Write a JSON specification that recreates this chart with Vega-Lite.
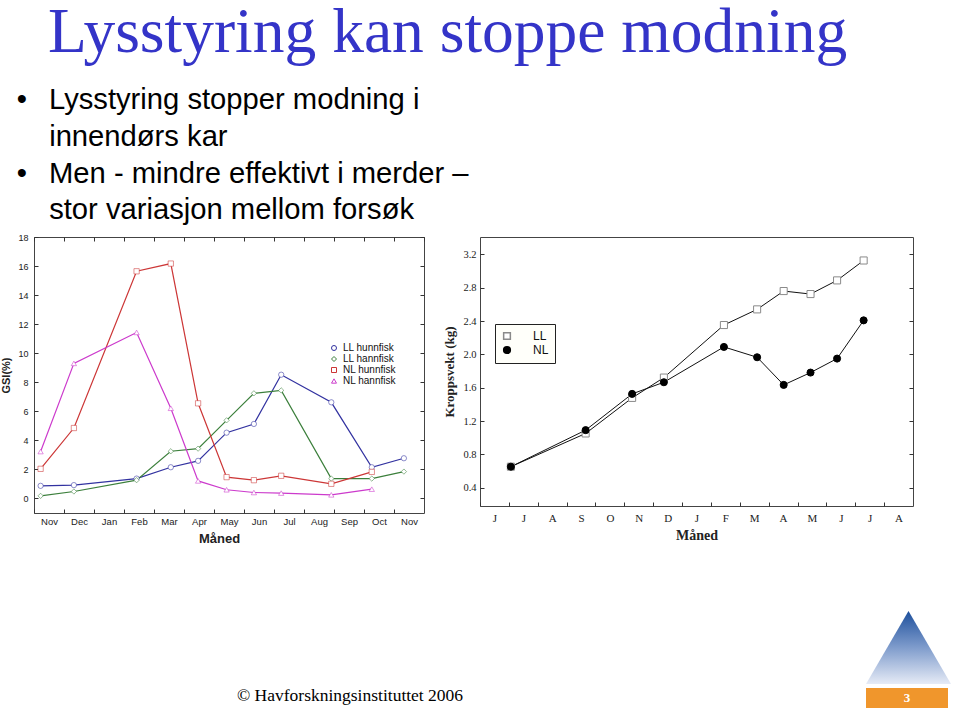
{
  "$schema": "https://vega.github.io/schema/vega-lite/v6.json",
  "background": "white",
  "padding": 0,
  "title": {
    "text": "\u200b\u00a0\u00a0\u00a0Lysstyring kan stoppe modning",
    "subtitle": [
      "\u200b\u00a0\u00a0•\u00a0\u00a0\u2009Lysstyring stopper modning i",
      "\u200b\u00a0\u00a0\u00a0\u00a0\u00a0\u00a0innendørs kar",
      "\u200b\u00a0\u00a0•\u00a0\u00a0\u2009Men - mindre effektivt i merder –",
      "\u200b\u00a0\u00a0\u00a0\u00a0\u00a0\u00a0stor variasjon mellom forsøk"
    ],
    "anchor": "start",
    "frame": "bounds",
    "font": "Liberation Serif",
    "fontSize": 63.5,
    "fontWeight": "normal",
    "color": "#3434c8",
    "subtitleFont": "Liberation Sans",
    "subtitleFontSize": 29.2,
    "subtitleColor": "#000000",
    "subtitleLineHeight": 36.7,
    "subtitlePadding": 21,
    "offset": 6
  },
  "datasets": {
    "gsi": [
      {"m": 0.22, "v": 0.87, "series": "LL hunnfisk"},
      {"m": 1.33, "v": 0.92, "series": "LL hunnfisk"},
      {"m": 3.42, "v": 1.37, "series": "LL hunnfisk"},
      {"m": 4.56, "v": 2.15, "series": "LL hunnfisk"},
      {"m": 5.47, "v": 2.59, "series": "LL hunnfisk"},
      {"m": 6.42, "v": 4.53, "series": "LL hunnfisk"},
      {"m": 7.33, "v": 5.13, "series": "LL hunnfisk"},
      {"m": 8.24, "v": 8.52, "series": "LL hunnfisk"},
      {"m": 9.91, "v": 6.62, "series": "LL hunnfisk"},
      {"m": 11.26, "v": 2.15, "series": "LL hunnfisk"},
      {"m": 12.33, "v": 2.77, "series": "LL hunnfisk"},
      {"m": 0.22, "v": 0.18, "series": "LL hannfisk"},
      {"m": 1.33, "v": 0.48, "series": "LL hannfisk"},
      {"m": 3.42, "v": 1.26, "series": "LL hannfisk"},
      {"m": 4.56, "v": 3.25, "series": "LL hannfisk"},
      {"m": 5.47, "v": 3.43, "series": "LL hannfisk"},
      {"m": 6.42, "v": 5.38, "series": "LL hannfisk"},
      {"m": 7.33, "v": 7.24, "series": "LL hannfisk"},
      {"m": 8.24, "v": 7.44, "series": "LL hannfisk"},
      {"m": 9.91, "v": 1.37, "series": "LL hannfisk"},
      {"m": 11.26, "v": 1.37, "series": "LL hannfisk"},
      {"m": 12.33, "v": 1.85, "series": "LL hannfisk"},
      {"m": 0.22, "v": 2.04, "series": "NL hunnfisk"},
      {"m": 1.33, "v": 4.85, "series": "NL hunnfisk"},
      {"m": 3.42, "v": 15.64, "series": "NL hunnfisk"},
      {"m": 4.56, "v": 16.17, "series": "NL hunnfisk"},
      {"m": 5.47, "v": 6.55, "series": "NL hunnfisk"},
      {"m": 6.42, "v": 1.47, "series": "NL hunnfisk"},
      {"m": 7.33, "v": 1.26, "series": "NL hunnfisk"},
      {"m": 8.24, "v": 1.56, "series": "NL hunnfisk"},
      {"m": 9.91, "v": 1.01, "series": "NL hunnfisk"},
      {"m": 11.26, "v": 1.83, "series": "NL hunnfisk"},
      {"m": 0.22, "v": 3.23, "series": "NL hannfisk"},
      {"m": 1.33, "v": 9.30, "series": "NL hannfisk"},
      {"m": 3.42, "v": 11.43, "series": "NL hannfisk"},
      {"m": 4.56, "v": 6.21, "series": "NL hannfisk"},
      {"m": 5.47, "v": 1.21, "series": "NL hannfisk"},
      {"m": 6.42, "v": 0.60, "series": "NL hannfisk"},
      {"m": 7.33, "v": 0.41, "series": "NL hannfisk"},
      {"m": 8.24, "v": 0.37, "series": "NL hannfisk"},
      {"m": 9.91, "v": 0.25, "series": "NL hannfisk"},
      {"m": 11.26, "v": 0.64, "series": "NL hannfisk"}
    ],
    "weight": [
      {"m": 1.07, "v": 0.652, "series": "LL"},
      {"m": 3.66, "v": 1.051, "series": "LL"},
      {"m": 5.27, "v": 1.478, "series": "LL"},
      {"m": 6.37, "v": 1.722, "series": "LL"},
      {"m": 8.45, "v": 2.353, "series": "LL"},
      {"m": 9.60, "v": 2.541, "series": "LL"},
      {"m": 10.52, "v": 2.761, "series": "LL"},
      {"m": 11.45, "v": 2.725, "series": "LL"},
      {"m": 12.37, "v": 2.889, "series": "LL"},
      {"m": 13.29, "v": 3.128, "series": "LL"},
      {"m": 1.07, "v": 0.652, "series": "NL"},
      {"m": 3.66, "v": 1.091, "series": "NL"},
      {"m": 5.27, "v": 1.526, "series": "NL"},
      {"m": 6.37, "v": 1.666, "series": "NL"},
      {"m": 8.45, "v": 2.090, "series": "NL"},
      {"m": 9.60, "v": 1.966, "series": "NL"},
      {"m": 10.52, "v": 1.634, "series": "NL"},
      {"m": 11.45, "v": 1.782, "series": "NL"},
      {"m": 12.37, "v": 1.950, "series": "NL"},
      {"m": 13.29, "v": 2.409, "series": "NL"}
    ]
  },
  "vconcat": [
    {
      "resolve": {
        "scale": {"stroke": "independent", "shape": "independent", "fill": "independent"},
        "legend": {"stroke": "independent", "shape": "independent", "fill": "independent"}
      },
      "hconcat": [
        {
          "width": 390,
          "height": 276,
          "data": {"name": "gsi"},
          "resolve": {"axis": {"x": "independent", "y": "independent"}},
          "layer": [
            {
              "mark": {"type": "line", "strokeWidth": 1.2},
              "encoding": {
                "x": {
                  "field": "m", "type": "quantitative",
                  "scale": {"domain": [0, 13], "nice": false, "zero": false},
                  "axis": {
                    "orient": "bottom",
                    "values": [0, 1, 2, 3, 4, 5, 6, 7, 8, 9, 10, 11, 12],
                    "labelExpr": "['Nov','Dec','Jan','Feb','Mar','Apr','May','Jun','Jul','Aug','Sep','Oct','Nov'][datum.value]",
                    "labelOffset": 15,
                    "labelFlush": false,
                    "labelOverlap": false,
                    "labelFont": "Liberation Sans",
                    "labelFontSize": 9.5,
                    "labelColor": "#222222",
                    "tickSize": -4,
                    "tickColor": "#333333",
                    "labelPadding": 7,
                    "title": "Måned",
                    "titleX": 185,
                    "titleFont": "Liberation Sans",
                    "titleFontSize": 13,
                    "titleFontWeight": "bold",
                    "titleColor": "#222222",
                    "titlePadding": 7,
                    "grid": false,
                    "domain": false
                  }
                },
                "y": {
                  "field": "v", "type": "quantitative",
                  "scale": {"domain": [-1, 18], "nice": false, "zero": false},
                  "axis": {
                    "orient": "left",
                    "values": [0, 2, 4, 6, 8, 10, 12, 14, 16, 18],
                    "labelFlush": false,
                    "labelFont": "Liberation Sans",
                    "labelFontSize": 9,
                    "labelColor": "#222222",
                    "tickSize": -4,
                    "tickColor": "#333333",
                    "labelPadding": 10,
                    "title": "GSI(%)",
                    "titleFont": "Liberation Sans",
                    "titleFontSize": 11,
                    "titleFontWeight": "bold",
                    "titleColor": "#222222",
                    "titlePadding": 6,
                    "grid": false,
                    "domain": false
                  }
                },
                "stroke": {
                  "field": "series", "type": "nominal",
                  "scale": {
                    "domain": ["LL hunnfisk", "LL hannfisk", "NL hunnfisk", "NL hannfisk"],
                    "range": ["#3232a0", "#3b7f3b", "#cc3636", "#cc3acc"]
                  },
                  "legend": {
                    "title": null, "orient": "none", "legendX": 295, "legendY": 106,
                    "labelFont": "Liberation Sans", "labelFontSize": 10, "labelColor": "#111111",
                    "symbolSize": 25, "rowPadding": 1, "symbolStrokeWidth": 1
                  }
                }
              }
            },
            {
              "mark": {"type": "point", "filled": true, "fill": "white", "size": 28, "strokeWidth": 1, "opacity": 1, "strokeOpacity": 0.55},
              "encoding": {
                "x": {
                  "field": "m", "type": "quantitative",
                  "axis": {"orient": "top", "values": [0, 1, 2, 3, 4, 5, 6, 7, 8, 9, 10, 11, 12, 13], "labels": false, "tickSize": -4, "tickColor": "#333333", "title": null, "grid": false, "domain": false}
                },
                "y": {
                  "field": "v", "type": "quantitative",
                  "axis": {"orient": "right", "values": [0, 2, 4, 6, 8, 10, 12, 14, 16, 18], "labels": false, "tickSize": -4, "tickColor": "#333333", "title": null, "grid": false, "domain": false}
                },
                "stroke": {"field": "series", "type": "nominal"},
                "shape": {
                  "field": "series", "type": "nominal",
                  "scale": {
                    "domain": ["LL hunnfisk", "LL hannfisk", "NL hunnfisk", "NL hannfisk"],
                    "range": ["circle", "diamond", "square", "triangle-up"]
                  },
                  "legend": {
                    "title": null, "orient": "none", "legendX": 295, "legendY": 106,
                    "labelFont": "Liberation Sans", "labelFontSize": 10, "labelColor": "#111111",
                    "symbolSize": 25, "rowPadding": 1, "symbolStrokeWidth": 1
                  }
                }
              }
            }
          ]
        },
        {
          "width": 433,
          "height": 269,
          "data": {"name": "weight"},
          "resolve": {"axis": {"x": "independent", "y": "independent"}},
          "layer": [
            {
              "mark": {"type": "line", "strokeWidth": 1, "color": "#111111"},
              "encoding": {
                "x": {
                  "field": "m", "type": "quantitative",
                  "scale": {"domain": [0, 15], "nice": false, "zero": false},
                  "axis": {
                    "orient": "bottom",
                    "values": [0, 1, 2, 3, 4, 5, 6, 7, 8, 9, 10, 11, 12, 13, 14],
                    "labelExpr": "['J','J','A','S','O','N','D','J','F','M','A','M','J','J','A'][datum.value]",
                    "labelOffset": 14.4,
                    "labelFlush": false,
                    "labelOverlap": false,
                    "labelFont": "Liberation Serif",
                    "labelFontSize": 11,
                    "labelColor": "#222222",
                    "tickSize": -4,
                    "tickColor": "#333333",
                    "labelPadding": 10,
                    "title": "Måned",
                    "titleFont": "Liberation Serif",
                    "titleFontSize": 14,
                    "titleFontWeight": "bold",
                    "titleColor": "#222222",
                    "titlePadding": 5,
                    "grid": false,
                    "domain": false
                  }
                },
                "y": {
                  "field": "v", "type": "quantitative",
                  "scale": {"domain": [0.18, 3.41], "nice": false, "zero": false},
                  "axis": {
                    "orient": "left",
                    "values": [0.4, 0.8, 1.2, 1.6, 2.0, 2.4, 2.8, 3.2],
                    "format": ".1f",
                    "labelFlush": false,
                    "labelFont": "Liberation Serif",
                    "labelFontSize": 10.5,
                    "labelColor": "#222222",
                    "tickSize": -4,
                    "tickColor": "#333333",
                    "labelPadding": 8,
                    "title": "Kroppsvekt (kg)",
                    "titleFont": "Liberation Serif",
                    "titleFontSize": 13,
                    "titleFontWeight": "bold",
                    "titleColor": "#222222",
                    "titlePadding": 6,
                    "grid": false,
                    "domain": false
                  }
                },
                "detail": {"field": "series", "type": "nominal"}
              }
            },
            {
              "mark": {"type": "point", "filled": true, "size": 50, "strokeWidth": 1, "opacity": 1},
              "encoding": {
                "x": {"field": "m", "type": "quantitative", "axis": null},
                "y": {
                  "field": "v", "type": "quantitative",
                  "axis": {"orient": "right", "values": [0.4, 0.8, 1.2, 1.6, 2.0, 2.4, 2.8, 3.2], "labels": false, "tickSize": -4, "tickColor": "#333333", "title": null, "grid": false, "domain": false}
                },
                "shape": {
                  "field": "series", "type": "nominal",
                  "scale": {"domain": ["LL", "NL"], "range": ["square", "circle"]},
                  "legend": {
                    "title": null, "orient": "none", "legendX": 15, "legendY": 87,
                    "labelFont": "Liberation Sans", "labelFontSize": 12, "labelColor": "#111111",
                    "symbolSize": 45, "rowPadding": 0, "padding": 6,
                    "fillColor": "#fffffa", "strokeColor": "#222222", "labelOffset": 20
                  }
                },
                "fill": {
                  "field": "series", "type": "nominal",
                  "scale": {"domain": ["LL", "NL"], "range": ["#ffffff", "#000000"]},
                  "legend": {
                    "title": null, "orient": "none", "legendX": 15, "legendY": 87,
                    "labelFont": "Liberation Sans", "labelFontSize": 12, "labelColor": "#111111",
                    "symbolSize": 45, "rowPadding": 0, "padding": 6,
                    "fillColor": "#fffffa", "strokeColor": "#222222", "labelOffset": 20
                  }
                },
                "stroke": {
                  "field": "series", "type": "nominal",
                  "scale": {"domain": ["LL", "NL"], "range": ["#8a8a8a", "#000000"]},
                  "legend": {
                    "title": null, "orient": "none", "legendX": 15, "legendY": 87,
                    "labelFont": "Liberation Sans", "labelFontSize": 12, "labelColor": "#111111",
                    "symbolSize": 45, "rowPadding": 0, "padding": 6,
                    "fillColor": "#fffffa", "strokeColor": "#222222", "labelOffset": 20
                  }
                }
              }
            }
          ]
        }
      ],
      "spacing": 18
    },
    {
      "hconcat": [
        {
          "width": 632,
          "height": 95,
          "view": {"stroke": null},
          "data": {"values": [{"t": "© Havforskningsinstituttet 2006"}]},
          "mark": {"type": "text", "font": "Liberation Serif", "fontSize": 17.5, "baseline": "bottom", "color": "#000000"},
          "encoding": {"text": {"field": "t"}, "y": {"value": "height"}}
        },
        {
          "vconcat": [
            {
              "width": 85,
              "height": 75,
              "view": {"stroke": null},
              "data": {"values": [{"k": "logo"}]},
              "mark": {
                "type": "point",
                "shape": "M0,-0.86L1,0.86L-1,0.86Z",
                "size": 7225,
                "filled": true,
                "strokeWidth": 0,
                "opacity": 1,
                "fill": {
                  "gradient": "linear", "x1": 0, "y1": 0, "x2": 0, "y2": 1,
                  "stops": [
                    {"offset": 0, "color": "#1d4f9c"},
                    {"offset": 0.5, "color": "#7f9ccc"},
                    {"offset": 1, "color": "#e6ebf6"}
                  ]
                }
              },
              "encoding": {}
            },
            {
              "width": 82,
              "height": 20,
              "view": {"stroke": null, "fill": "#f0962c"},
              "data": {"values": [{"t": "3"}]},
              "mark": {"type": "text", "color": "white", "font": "Liberation Serif", "fontWeight": "bold", "fontSize": 13},
              "encoding": {"text": {"field": "t"}}
            }
          ],
          "spacing": 3
        }
      ],
      "spacing": 200
    }
  ],
  "spacing": 64,
  "config": {
    "view": {"stroke": "#444444", "strokeWidth": 1},
    "font": "Liberation Sans",
    "axis": {"grid": false, "domain": false}
  }
}
